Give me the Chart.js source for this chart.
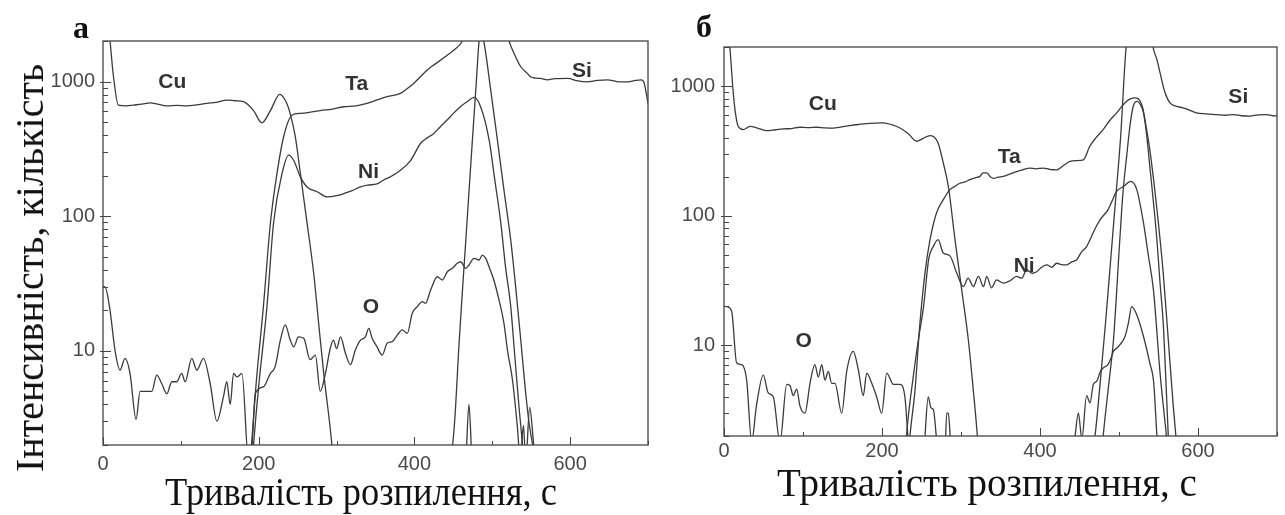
<!DOCTYPE html>
<html>
<head>
<meta charset="utf-8">
<script src="https://cdn.jsdelivr.net/npm/chart.js@4.4.0/dist/chart.umd.min.js"></script>
<style>
  body { margin: 0; background: #fff; width: 1285px; height: 515px; position: relative; overflow: hidden; }
  .box { position: absolute; top: 0; }
  .txt { position: absolute; font-family: "Liberation Serif", "Times New Roman", serif; color: #111; white-space: nowrap; line-height: 1; }
</style>
</head>
<body>
<div class="box" style="left:0"><canvas id="chart-a" width="660" height="480"></canvas></div>
<div class="box" style="left:660px"><canvas id="chart-b" width="625" height="480"></canvas></div>

<div class="txt" style="left:73px;top:11px;font-size:32px;font-weight:bold">а</div>
<div class="txt" style="left:696px;top:10px;font-size:32px;font-weight:bold">б</div>
<div class="txt" style="left:30px;top:268px;font-size:40px;transform:translate(-50%,-50%) rotate(-90deg)">Інтенсивність, кількість</div>
<div class="txt" style="left:361px;top:472px;font-size:40px;transform:translateX(-50%) scaleX(0.91)">Тривалість розпилення, с</div>
<div class="txt" style="left:987px;top:463px;font-size:40px;transform:translateX(-50%) scaleX(0.975)">Тривалість розпилення, с</div>

<script>
// sputter time (s) / intensity (counts)

// panel а
const cuA = [[0,5000],[9,2000],[13,1150],[19.7,669],[30,660],[39,669],[50,680],[60.5,695],[70,680],[82,660],[95,665],[107.7,660],[120,670],[133.4,689],[145,700],[159,728],[170,720],[180.5,709],[193.4,608],[204,494],[215,608],[227,803],[236,689],[241,560],[247,390],[253.5,208],[262,90],[270.6,37.7],[277,16],[283.5,6.8],[294,2],[298,1],[462,1],[466,1.5],[470,4],[474,1.5],[478,1]];
const taA = [[185,1],[190,1.8],[197,6],[206,21.3],[215,88.6],[223.5,208],[232,389],[243,564],[253.5,580],[265,590],[279,608],[295,625],[309,650],[325,660],[339,689],[352,730],[365,771],[382,817],[390,880],[399,968],[408,1090],[416.5,1217],[425,1330],[433.6,1442],[442,1570],[450.8,1712],[461.6,2000],[470,2800],[478,3000],[484,2400],[489,2000],[498,863],[506.6,367],[515,156],[523.7,66.5],[530,30],[536.6,12],[542,5.5],[547.3,2.9],[556,1.5]];
const niA = [[190,1],[193.4,2],[200,5.5],[210.6,21.3],[219,88.6],[230,208],[238.5,284],[245,259],[253.5,196],[262,165],[275,152],[288,139],[300,142],[309,147],[320,155],[330.7,165],[340,170],[352,174],[360,185],[369,196],[382,219],[395,259],[408,348],[416,380],[425,412],[433,460],[442,518],[450,580],[459,650],[468,710],[476.5,762],[485,650],[496,367],[503,190],[511,88.5],[517,42],[523.7,21.3],[529,9],[534.4,3.8],[538.7,2],[542,1]];
const oA = [[0,30],[2.6,29.9],[9,20.1],[15.4,10.1],[21.9,7.2],[28.3,8.8],[34.7,6.8],[42.5,3.1],[47.6,5],[62.6,5],[69,6.6],[75.5,5.7],[82,4.8],[88.4,5.9],[94.8,5.9],[101,6.8],[105.5,5.9],[114,8.8],[120.5,7.2],[129,8.8],[137.7,5.7],[146.3,3],[154.8,4.6],[159,5.9],[163.4,4],[167.7,6.8],[172,6.4],[178.5,6.8],[187,1.5],[191,1.8],[195.6,4.8],[206,5.4],[215,6.8],[221,7.6],[227.8,12],[234,15.6],[240.6,12],[245,10.7],[251,12.7],[257.8,12.4],[266,8.6],[272.8,9.3],[279,5],[285.7,6.8],[292,10.5],[296,12],[300,10.4],[305,12.7],[311.4,9.6],[317.8,7.9],[324,10.1],[330.7,12],[337,12.7],[341.4,14.7],[345.7,12.4],[352,10.7],[358.6,9.3],[365,11.4],[371.5,11.7],[378,13.1],[384.4,14.3],[390.8,13.5],[397.2,19],[403.7,21.3],[410,23.2],[414.3,22.6],[420.8,28.3],[429.4,35.5],[435.8,33.6],[442.3,38.7],[448.7,41],[455,44.7],[459.4,45.9],[465.8,41],[470,43.4],[476.5,48.6],[483,47.3],[487.3,51.4],[491.6,48.6],[495.8,42.2],[502,33.6],[508.7,23.8],[515,16],[519.5,10.1],[525.9,6.1],[532.3,2.7],[536,1.5],[540,2.8],[543,1.5],[548,3.8],[552,2.4],[556,1.2]];
const siA = [[440,1],[449,2],[452,3.2],[457.2,11],[462,30],[465.8,63.7],[470,150],[474.4,364],[479,900],[483,2000],[490,4000],[510,4000],[521.6,2000],[528,1618],[536.6,1288],[545,1150],[549,1085],[556,1060],[562,1055],[571,1030],[580,1050],[597,1055],[610,1010],[622,995],[635,1020],[648,1030],[660,1000],[674,995],[684,1020],[691,1030],[695,980],[697,863],[700,689]];

// panel б
const cuB = [[0,6000],[5,3000],[8,1800],[11,1000],[13.9,658],[18,489],[24.5,461],[33,489],[44,470],[54,453],[65,460],[75,467],[85,470],[96,481],[107,478],[117,481],[128,476],[138,474],[149,485],[159.5,496],[170,505],[180.6,513],[191,518],[201.7,520],[212,505],[222.8,475],[233,430],[243.9,375],[252,395],[260.8,415],[265,408],[271,364],[277.6,255],[284,168],[292.4,65.3],[300.9,26.8],[309.3,11],[315.6,4.5],[320.7,2],[324,1]];
const taB = [[232,1],[235.4,2],[241.8,4.5],[248,14.8],[254.4,36.1],[260.8,65.3],[269,105],[277.6,133],[286,159],[292,168],[298.7,178],[305,182],[311,190],[318,196],[324,201],[328,214],[332.5,214],[337,200],[341,194],[347,198],[353.6,201],[362,210],[370.5,219],[378,226],[387,233],[395,230],[404,233],[412,228],[421,226],[430,245],[438,262],[446,266],[455,270],[463,343],[471,400],[480,461],[488,540],[497,621],[503,690],[509.7,762],[515,800],[520.2,810],[524,800],[530,680],[534,500],[539,323],[547.6,118],[556,36.1],[562.4,11],[568.7,3.4],[572,2],[576,1]];
const niB = [[228,1],[231,2],[240,6],[246,11],[252.6,19.9],[259,45.7],[265,58],[271,65.3],[277.6,51.5],[286,49],[294.6,36.1],[303,28.4],[309,33],[315.6,28.4],[322,34],[328.5,28.4],[332.5,34],[338.6,27.8],[345,32],[353.6,30.2],[362,31.5],[370.5,34],[377,33],[383,38.3],[390,36],[395.8,37],[402,40],[408.5,41.8],[415,40],[421,43],[427,42],[433.8,41.8],[440,44],[446.5,45.7],[452,52],[459,57.8],[463.3,65.3],[470,80],[476,93],[486,111],[490,125],[497,154],[505.6,168],[515,184],[522.5,159],[531,88],[537,50],[543.6,26.8],[552,6.1],[557,3],[560,2],[563,1]];
const oB = [[0,20],[3.4,19.9],[9.7,18.3],[16,7.3],[22.4,7.1],[28.7,5.4],[35,1.8],[41,3.4],[49.7,5.9],[56,4.3],[62.4,4],[70.9,1.8],[79.4,5],[83.5,4.9],[87.7,4.1],[92,4.6],[96.2,3.4],[102.5,3],[108.9,5.1],[115,7.1],[119.4,5.7],[123.7,7.1],[127.8,5.4],[132,6.3],[136.3,5.1],[140.5,5.1],[149,3],[155.3,6.3],[163.7,9],[170,6.5],[176.3,4.1],[180.6,6.1],[187,5.1],[193.3,4],[199.6,3],[206,6.1],[214.4,5],[222.8,5],[229,4],[233.3,1.8],[236,1.2],[252,1.2],[254.2,1.9],[258.5,4],[262,3.3],[265,3.2],[269,1.9],[272,1.2],[279,1.2],[282,3],[284,3],[286.5,1.9],[289,1.2],[440,1.2],[444,1.9],[448.6,3],[453,1.9],[459,4.1],[463.3,3.6],[467.5,5],[472,5.3],[476,6.2],[480,6.7],[486,7.1],[490,8],[493,9],[497,9.5],[501,10.1],[507.6,11.7],[512,15],[516,19.9],[522.5,17.2],[531,11.7],[539,7.3],[544,5.1],[548,2],[551,1.2]];
const siB = [[460,1],[469.6,2],[476,5],[483,15],[490,50],[496,140],[502,400],[509,2000],[520,5000],[535,5000],[543,2000],[548,1600],[552,1262],[558,900],[564.5,741],[572,700],[581,678],[590,650],[598,622],[610,610],[623.5,602],[635,595],[644.7,602],[655,590],[665.8,587],[676,600],[687,602],[694,590],[700,587]];
const peakB = [[476,1],[480,2],[487,5],[493,11],[501,65],[505,150],[509.7,287],[514,500],[518,698],[523,762],[527,720],[531,621],[535,420],[539,240],[544,120],[548,65],[552,30],[556,14.8],[559,6],[562.4,2],[565,1]];

const xTicks = [0, 100, 200, 300, 400, 500, 600, 700];
const xLabels = [0, 200, 400, 600];
const yTicks = [2,3,4,5,6,7,8,9,10,20,30,40,50,60,70,80,90,100,200,300,400,500,600,700,800,900,1000,2000];
const yLabels = [10, 100, 1000];

const labelsA = [["Cu", 89, 990], ["Ta", 326, 957], ["Si", 615, 1196], ["Ni", 341, 213], ["O", 344, 21]];
const labelsB = [["Cu", 125, 719], ["Ta", 361, 285], ["Si", 651, 815], ["Ni", 380, 41], ["O", 101, 10.8]];

const INK = "#3b3b3b";
Chart.defaults.font.family = '"Liberation Sans", Arial, sans-serif';
Chart.defaults.font.size = 20;
Chart.defaults.color = "#4a4a4a";

// frame, inward ticks and element names
const frameTicks = {
  id: "frameTicks",
  afterDatasetsDraw(chart, args, opts) {
    const { ctx, chartArea: a, scales: { x, y } } = chart;
    ctx.save();
    ctx.strokeStyle = "#444";
    ctx.lineWidth = 1.3;
    ctx.strokeRect(a.left, a.top, a.right - a.left, a.bottom - a.top);
    ctx.lineWidth = 1;
    y.ticks.forEach(t => {
      const py = Math.round(y.getPixelForValue(t.value)) + 0.5;
      const major = yLabels.includes(t.value);
      ctx.beginPath();
      ctx.moveTo(a.left - (major ? 3 : 0), py);
      ctx.lineTo(a.left + (major ? 8 : 5), py);
      ctx.stroke();
    });
    x.ticks.forEach(t => {
      const px = Math.round(x.getPixelForValue(t.value)) + 0.5;
      const major = xLabels.includes(t.value);
      ctx.beginPath();
      ctx.moveTo(px, a.bottom);
      ctx.lineTo(px, a.bottom - (major ? 8 : 4));
      ctx.stroke();
    });
    ctx.font = 'bold 21px "Liberation Sans", Arial, sans-serif';
    ctx.fillStyle = "#333";
    ctx.textAlign = "center";
    ctx.textBaseline = "middle";
    opts.names.forEach(([text, t, v]) => {
      ctx.fillText(text, x.getPixelForValue(t), y.getPixelForValue(v));
    });
    ctx.restore();
  }
};

function series(data) {
  return {
    data,
    borderColor: INK,
    borderWidth: 1.3,
    pointRadius: 0,
    fill: false,
    cubicInterpolationMode: "monotone",
    clip: 0
  };
}

function makeChart(id, sets, names, pad, xGap, yGap) {
  return new Chart(document.getElementById(id), {
    type: "line",
    data: { datasets: sets.map(series) },
    options: {
      responsive: false,
      animation: false,
      layout: { padding: pad, autoPadding: false },
      plugins: { legend: { display: false }, tooltip: { enabled: false }, frameTicks: { names } },
      scales: {
        x: {
          type: "linear", min: 0, max: 700,
          afterBuildTicks: s => { s.ticks = xTicks.map(value => ({ value })); },
          afterFit: s => { s.height = 35; },
          grid: { display: false, drawTicks: false }, border: { display: false },
          ticks: { autoSkip: false, maxRotation: 0, padding: xGap,
                   callback: v => xLabels.includes(v) ? String(v) : "" }
        },
        y: {
          type: "logarithmic", min: 2, max: 2000,
          afterBuildTicks: s => { s.ticks = yTicks.map(value => ({ value })); },
          afterFit: s => { s.width = 60; },
          grid: { display: false, drawTicks: false }, border: { display: false },
          ticks: { autoSkip: false, padding: yGap,
                   callback: v => yLabels.includes(v) ? String(v) : "" }
        }
      }
    },
    plugins: [frameTicks]
  });
}

makeChart("chart-a", [cuA, taA, niA, oA, siA], labelsA, { left: 43, right: 12, top: 41, bottom: 0 }, 7, 8);
makeChart("chart-b", [cuB, taB, niB, oB, siB, peakB], labelsB, { left: 4, right: 8, top: 47, bottom: 9 }, 3, 9);
</script>
</body>
</html>
